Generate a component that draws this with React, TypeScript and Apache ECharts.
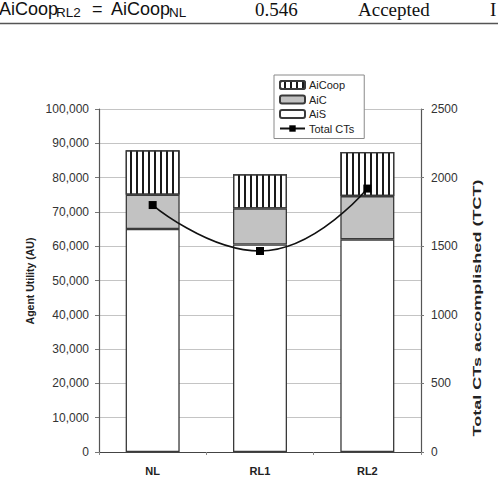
import React, { useEffect, useRef } from "react";
import * as echarts from "echarts";

const categories = ["NL", "RL1", "RL2"];
const aiS = [65000, 60500, 62000];
const aiC = [10000, 10500, 12600];
const aiCoop = [13000, 10000, 12900];
const totalCTs = [1800, 1465, 1920];
const legendNames = ["AiCoop", "AiC", "AiS", "Total CTs"];
const leftAxisName = "Agent Utility (AU)";
const rightAxisName = "Total CTs accomplished (TCT)";

const SANS = "'Liberation Sans', Arial, Helvetica, sans-serif";
const SERIF = "'Liberation Serif', 'Times New Roman', serif";

function fmt(v: number) {
  return v.toString().replace(/\B(?=(\d{3})+(?!\d))/g, ",");
}

export default function App() {
  const ref = useRef<HTMLDivElement>(null);
  useEffect(() => {
    if (!ref.current) return;
    const chart = echarts.init(ref.current, undefined, { renderer: "svg" });
    const barBorder = { borderColor: "#3a3a3a", borderWidth: 1.3 };
    const txt = (text: string, x: number, y: number, fs: number, family: string, extra: any = {}) => ({
      type: "text",
      x,
      y,
      style: {
        text,
        fontSize: fs,
        fontFamily: family,
        fill: "#111",
        textAlign: "left",
        align: "left",
        textVerticalAlign: "middle",
        verticalAlign: "middle",
        ...extra,
      },
    });
    chart.setOption({
      animation: false,
      backgroundColor: "#ffffff",
      textStyle: { fontFamily: SANS },
      grid: { left: 99, right: 77, top: 109, bottom: 30 },
      legend: {
        data: legendNames,
        orient: "vertical",
        left: 274,
        top: 75,
        padding: [4, 10, 4, 5],
        itemGap: 2.5,
        itemWidth: 25,
        itemHeight: 8,
        backgroundColor: "#ffffff",
        borderColor: "#8a8a8a",
        borderWidth: 1,
        textStyle: { fontSize: 11, color: "#222", fontFamily: SANS, lineHeight: 12, padding: [0, 0, 0, -1] },
      },
      xAxis: {
        type: "category",
        data: categories,
        axisLine: { lineStyle: { color: "#444", width: 1.2 } },
        axisTick: { show: true, length: 3, lineStyle: { color: "#888" } },
        axisLabel: { fontSize: 11, fontWeight: "bold", color: "#222", margin: 13 },
      },
      yAxis: [
        {
          type: "value",
          min: 0,
          max: 100000,
          interval: 10000,
          axisLine: { show: true, lineStyle: { color: "#555", width: 1.2 } },
          axisTick: { show: true, length: 4, lineStyle: { color: "#777" } },
          axisLabel: { fontSize: 12, color: "#333", margin: 10, formatter: (v: number) => fmt(v) },
          splitLine: { show: true, lineStyle: { color: "#c4c4c4", width: 1 } },
        },
        {
          type: "value",
          min: 0,
          max: 2500,
          interval: 500,
          position: "right",
          axisLine: { show: true, lineStyle: { color: "#555", width: 1.2 } },
          axisTick: { show: true, length: 3, lineStyle: { color: "#777" } },
          axisLabel: { fontSize: 12, color: "#333", margin: 10, formatter: (v: number) => String(v) },
          splitLine: { show: false },
        },
      ],
      series: [
        {
          name: "AiS",
          type: "bar",
          stack: "u",
          barWidth: 54,
          data: aiS,
          itemStyle: { color: "#ffffff", ...barBorder },
        },
        {
          name: "AiC",
          type: "bar",
          stack: "u",
          barWidth: 54,
          data: aiC,
          itemStyle: { color: "#c2c2c2", ...barBorder },
        },
        {
          name: "AiCoop",
          type: "bar",
          stack: "u",
          barWidth: 54,
          data: aiCoop,
          itemStyle: {
            color: "#ffffff",
            ...barBorder,
            decal: {
              symbol: "rect",
              symbolSize: 1,
              color: "#1a1a1a",
              backgroundColor: "#ffffff",
              dashArrayX: [1, 0],
              dashArrayY: [1.3, 4],
              rotation: Math.PI / 2,
            },
          },
        },
        {
          name: "Total CTs",
          type: "line",
          yAxisIndex: 1,
          smooth: true,
          data: totalCTs,
          symbol: "rect",
          symbolSize: 8,
          z: 5,
          lineStyle: { color: "#111", width: 1.6 },
          itemStyle: { color: "#000" },
        },
      ],
      graphic: [
        txt("AiCoop", -1, 9, 18, SANS, { lineHeight: 17 }),
        txt("RL2", 56, 12.5, 13.5, SANS, { lineHeight: 13 }),
        txt("=", 92, 9, 18, SANS, { lineHeight: 17 }),
        txt("AiCoop", 111, 9, 18, SANS, { lineHeight: 17 }),
        txt("NL", 169, 12.5, 13.5, SANS, { lineHeight: 13 }),
        txt("0.546", 255, 9, 19, SERIF, { lineHeight: 16 }),
        txt("Accepted", 358, 9, 19, SERIF, { lineHeight: 16 }),
        txt("I", 490, 9, 19, SERIF, { lineHeight: 16 }),
        {
          type: "line",
          shape: { x1: 0, y1: 23.5, x2: 498, y2: 23.5 },
          style: { stroke: "#555", lineWidth: 1.5 },
        },
        {
          type: "text",
          x: 30,
          y: 281,
          rotation: Math.PI / 2,
          style: {
            text: leftAxisName,
            fontSize: 10.5,
            fontWeight: "bold",
            fontFamily: SANS,
            fill: "#222",
            textAlign: "center",
            align: "center",
            textVerticalAlign: "middle",
            verticalAlign: "middle",
          },
        },
        {
          type: "text",
          x: 477,
          y: 308,
          rotation: Math.PI / 2,
          scaleX: 1.72,
          style: {
            text: rightAxisName,
            fontSize: 10.5,
            fontWeight: "bold",
            fontFamily: SANS,
            fill: "#222",
            textAlign: "center",
            align: "center",
            textVerticalAlign: "middle",
            verticalAlign: "middle",
          },
        },
      ],
    });
    return () => chart.dispose();
  }, []);
  return <div ref={ref} style={{ width: 498, height: 482, position: "absolute", left: 0, top: 0 }} />;
}
